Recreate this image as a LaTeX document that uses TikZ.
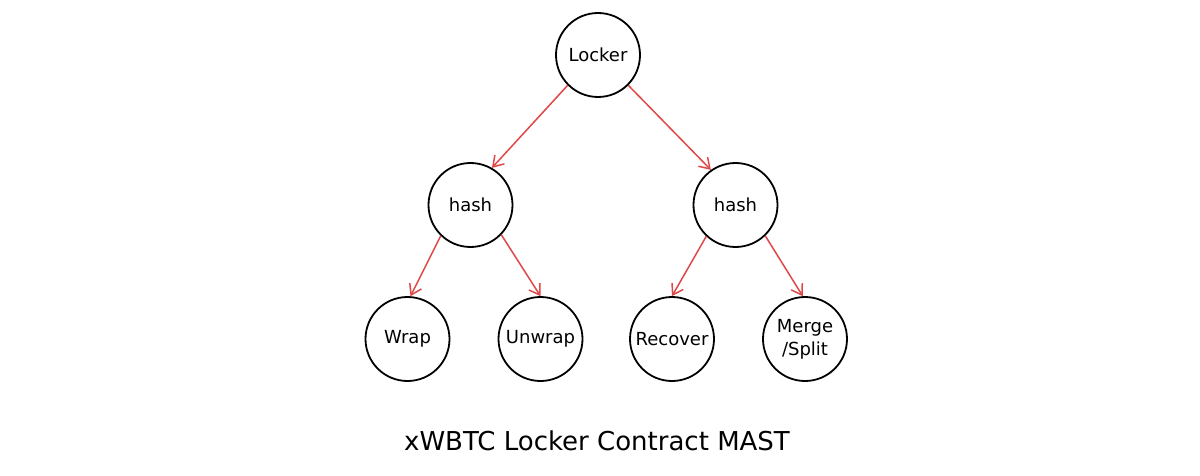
\documentclass[tikz,border=0pt]{standalone}
\usepackage{fontspec}
\setmainfont{DejaVu Sans}
\usetikzlibrary{arrows.meta}
\definecolor{sketchred}{RGB}{224,72,72}
\tikzset{
  treenode/.style={circle, draw=black, line width=1.8pt, minimum size=84pt, inner sep=0pt,
    font=\fontsize{18}{23}\selectfont, align=center},
  edge/.style={draw=sketchred, line width=1.5pt, -{Straight Barb[length=10pt,width=13pt,line width=1.5pt]}},
}
\begin{document}
\begin{tikzpicture}[x=1pt,y=-1pt]
\useasboundingbox[fill=white] (0,0) rectangle (1200,476);
\node[treenode] (locker) at (598,55) {Locker};
\node[treenode] (hashL) at (470.5,205) {hash};
\node[treenode] (hashR) at (735.5,205) {hash};
\node[treenode] (wrap) at (407.5,339) {Wrap};
\node[treenode] (unwrap) at (540.5,339) {Unwrap};
\node[treenode] (recover) at (672,339) {Recover};
\node[treenode] (merge) at (805,339) {Merge\\/Split};
\node[font=\fontsize{26}{30}\selectfont] (title) at (597,441) {xWBTC Locker Contract MAST};
\draw[edge] (locker.225) -- (hashL.60);
\draw[edge] (locker.-45) -- (hashR.125);
\draw[edge] (hashL.226) -- (wrap.86);
\draw[edge] (hashL.-44) -- (unwrap.90);
\draw[edge] (hashR.227) -- (recover.90);
\draw[edge] (hashR.-46) -- (merge.93);
\end{tikzpicture}
\end{document}
